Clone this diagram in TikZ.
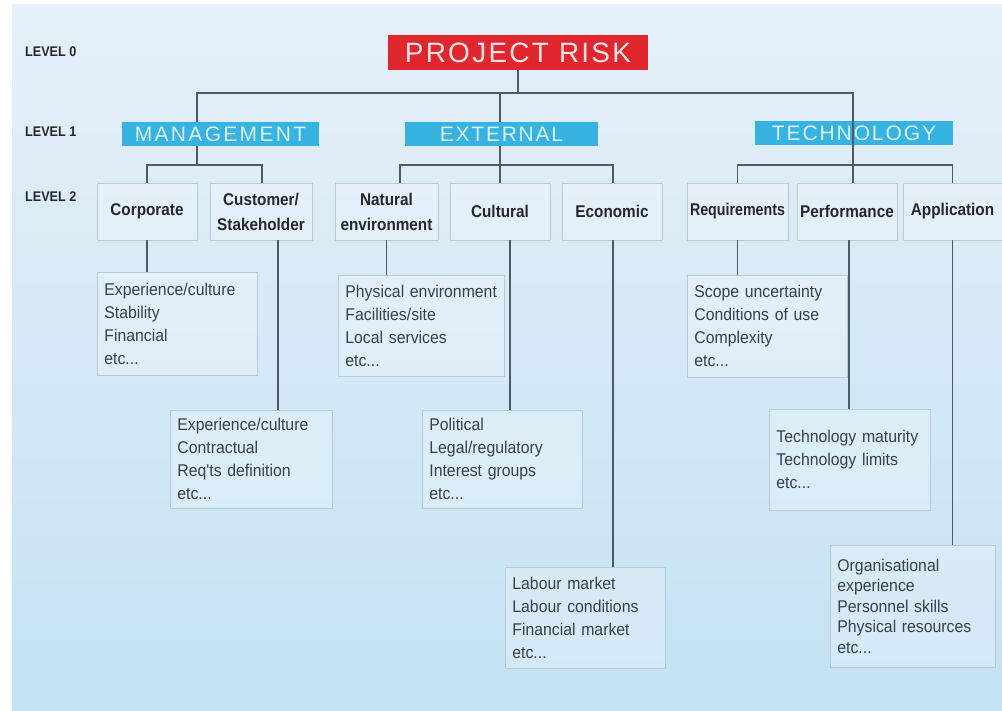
\documentclass[tikz,border=0pt]{standalone}
\usepackage{fontspec}
\usepackage{graphicx}
\setmainfont{Liberation Sans}
\newfontfamily\condfam{Liberation Sans}[FakeStretch=0.9]
\newfontfamily\leaffam{Liberation Sans}[FakeStretch=0.93]
\newfontfamily\spacedA{Liberation Sans}[LetterSpace=11]
\newfontfamily\spacedB{Liberation Sans}[LetterSpace=8.5]
\newfontfamily\spacedC{Liberation Sans}[LetterSpace=9]
\newfontfamily\spacedR{Liberation Sans}[LetterSpace=8]
% detail text: condensed, no hyphenation
\newcommand\leaffont{\leaffam\fontsize{17}{23}\selectfont\hyphenpenalty10000\exhyphenpenalty10000\relax}
\newcommand\leaffonttight{\leaffam\fontsize{17}{20.5}\selectfont\hyphenpenalty10000\exhyphenpenalty10000\relax}

\definecolor{bgtop}{HTML}{E6F0F8}
\definecolor{bgbot}{HTML}{C3E2F3}
\definecolor{riskred}{HTML}{E0262E}
\definecolor{riskink}{HTML}{FBE4E6}
\definecolor{catblue}{HTML}{36B3E1}
\definecolor{catink}{HTML}{DDF2FB}
\definecolor{wirecol}{HTML}{4F5B64}
\definecolor{boxline}{HTML}{B7CBD7}
\definecolor{ink}{HTML}{3A4046}
\definecolor{darkink}{HTML}{24282C}

\tikzset{
  levelname/.style={anchor=west, inner sep=0pt, text=darkink,
    font=\condfam\bfseries\fontsize{14}{16}\selectfont},
  riskbox/.style={fill=riskred, text=riskink, minimum width=260pt, minimum height=35pt,
    inner sep=0pt, font=\spacedR\fontsize{28}{30}\selectfont},
  catbox/.style={fill=catblue, text=catink, minimum height=24pt, inner sep=0pt,
    font=\fontsize{21}{22}\selectfont},
  subbox/.style={draw=boxline, line width=0.8pt, fill=white, fill opacity=0.25, text opacity=1,
    minimum height=57pt, inner sep=0pt, align=center, text=darkink,
    font=\condfam\bfseries\fontsize{17}{25}\selectfont},
  leaf/.style={draw=boxline, line width=0.8pt, fill=white, fill opacity=0.25, text opacity=1,
    anchor=north west, inner xsep=7pt, inner ysep=0pt, align=left, text=ink,
    font=\leaffont},
  wire/.style={draw=wirecol, line width=1.6pt}
}

\begin{document}
\begin{tikzpicture}[x=1pt,y=-1pt]
  % canvas and tinted panel
  \fill[white] (0,0) rectangle (1002,711);
  \useasboundingbox (0,0) rectangle (1002,711);
  \shade[top color=bgtop, bottom color=bgbot] (12,5) rectangle (1002,711);

  % level captions
  \node[levelname] (lv0) at (25,52) {LEVEL 0};
  \node[levelname] (lv1) at (25,132) {LEVEL 1};
  \node[levelname] (lv2) at (25,197) {LEVEL 2};

  % leaf boxes (level 2 detail)
  \node[leaf, text width=146pt, minimum height=103pt] (corpL) at (97,272)
    {Experience/culture\\Stability\\Financial\\etc...};
  \node[leaf, text width=148pt, minimum height=98pt] (custL) at (170,410)
    {Experience/culture\\Contractual\\Req'ts definition\\etc...};
  \node[leaf, text width=152pt, minimum height=101pt] (natL) at (338,275)
    {Physical environment\\Facilities/site\\Local services\\etc...};
  \node[leaf, text width=146pt, minimum height=98pt] (cultL) at (422,410)
    {Political\\Legal/regulatory\\Interest groups\\etc...};
  \node[leaf, text width=146pt, minimum height=101pt] (econL) at (505,567)
    {Labour market\\Labour conditions\\Financial market\\etc...};
  \node[leaf, text width=146pt, minimum height=102pt] (reqL) at (687,275)
    {Scope uncertainty\\Conditions of use\\Complexity\\etc...};
  \node[leaf, text width=147pt, minimum height=101pt] (perfL) at (769,409)
    {Technology maturity\\Technology limits\\etc...};
  \node[leaf, text width=151pt, minimum height=122pt, font=\leaffonttight]
    (appL) at (830,545)
    {Organisational\\experience\\Personnel skills\\Physical resources\\etc...};

  % level 2 categories
  \node[subbox, minimum width=100pt] (corp) at (147,211.5) {Corporate};
  \node[subbox, minimum width=102pt] (cust) at (261,211.5) {Customer/\\Stakeholder};
  \node[subbox, minimum width=103pt] (nat)  at (386.5,211.5) {Natural\\environment};
  \node[subbox, minimum width=100pt] (cult) at (500,211.5) {Cultural};
  \node[subbox, minimum width=100pt] (econ) at (612,211.5) {Economic};
  \node[subbox, minimum width=101pt] (req)  at (737.5,211.5) {\scalebox{0.93}[1]{Requirements}};
  \node[subbox, minimum width=100pt] (perf) at (847,211.5) {Performance};
  \node[subbox, minimum width=99pt]  (app)  at (952.5,211.5) {Application};

  % level 0 and level 1
  \node[riskbox] (risk) at (518,52.5) {PROJECT RISK};
  \node[catbox, minimum width=197pt] (mgmt) at (220.5,134) {\spacedA MANAGEMENT};
  \node[catbox, minimum width=193pt] (ext)  at (501.5,134) {\spacedB EXTERNAL};
  \node[catbox, minimum width=198pt] (tech) at (854,133.5) {\spacedC TECHNOLOGY};

  % bus heights
  \coordinate (bus) at (0,93);
  \coordinate (bus1) at (0,165);

  % level 0 -> level 1
  \draw[wire] (risk.south) -- (risk.south |- bus);
  \draw[wire] ([xshift=-23.5pt]mgmt.north) |- ([xshift=-1pt]tech.north |- bus)
              -- ([xshift=-1pt]tech.north |- perf.north);
  \draw[wire] ([xshift=-1.5pt]ext.north) -- ([xshift=-1.5pt]ext.north |- bus);

  % level 1 -> level 2
  \draw[wire] ([xshift=-23.5pt]mgmt.south) -- ([xshift=-23.5pt]mgmt.south |- bus1);
  \draw[wire] (corp.north) |- ([xshift=1pt]cust.north |- bus1) -- ([xshift=1pt]cust.north);
  \draw[wire] ([xshift=-1.5pt]ext.south) -- (cult.north);
  \draw[wire] ([xshift=13.5pt]nat.north) |- ([xshift=1pt]econ.north |- bus1)
              -- ([xshift=1pt]econ.north);
  \draw[wire] (req.north) |- (app.north |- bus1) -- (app.north);

  % level 2 -> detail
  \draw[wire] (corp.south) -- (corp.south |- corpL.north);
  \draw[wire] ([xshift=17pt]cust.south) -- ([xshift=17pt]cust.south |- custL.north);
  \draw[wire] (nat.south) -- (nat.south |- natL.north);
  \draw[wire] ([xshift=10pt]cult.south) -- ([xshift=10pt]cult.south |- cultL.north);
  \draw[wire] ([xshift=1pt]econ.south) -- ([xshift=1pt]econ.south |- econL.north);
  \draw[wire] (req.south) -- (req.south |- reqL.north);
  \draw[wire] ([xshift=2pt]perf.south) -- ([xshift=2pt]perf.south |- perfL.north);
  \draw[wire] (app.south) -- (app.south |- appL.north);
\end{tikzpicture}
\end{document}
